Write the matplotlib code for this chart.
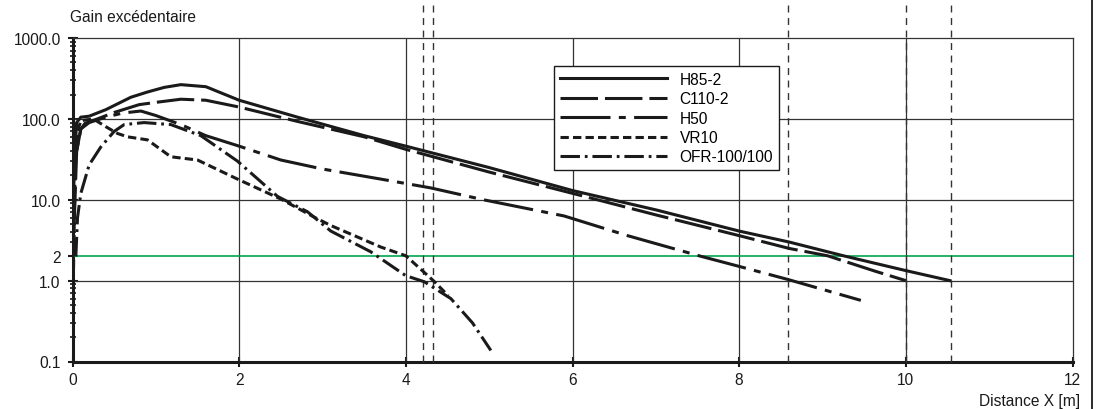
import matplotlib
matplotlib.use("Agg")
import matplotlib.pyplot as plt
from matplotlib.lines import Line2D
from matplotlib.ticker import FixedLocator, LogLocator, NullFormatter

plt.rcParams['font.family'] = ['Liberation Sans', 'DejaVu Sans']
plt.rcParams['lines.scale_dashes'] = False

# values
h85_x = [0.0, 0.02, 0.05, 0.1, 0.2, 0.4, 0.7, 0.9, 1.1, 1.3, 1.6, 2.0, 2.7, 3.5, 4.0, 5.0,
         6.0, 7.0, 8.0, 8.6, 9.25, 10.0, 10.53]
h85_y = [1.0, 30, 90, 105, 108, 130, 185, 215, 245, 265, 250, 170, 105, 62, 46, 25,
         13, 7.5, 4.1, 3.0, 2.03, 1.33, 1.0]

c110_x = [0.02, 0.05, 0.1, 0.15, 0.3, 0.5, 0.8, 1.0, 1.3, 1.6, 2.0, 2.7, 3.5, 4.0, 5.0,
          6.0, 7.0, 8.0, 8.6, 9.06, 9.64, 10.0]
c110_y = [5, 40, 75, 88, 100, 120, 150, 160, 175, 170, 140, 93, 60, 42, 22,
          12, 6.5, 3.6, 2.5, 2.03, 1.3, 1.0]

h50_x = [0.05, 0.1, 0.2, 0.4, 0.6, 0.82, 1.0, 1.3, 1.6, 2.0, 2.5, 3.0, 3.7, 4.3, 4.93,
         5.9, 6.66, 7.54, 8.02, 8.59, 9.46]
h50_y = [40, 75, 90, 105, 118, 125, 110, 85, 62, 46, 31, 24, 18, 14, 10,
         6.3, 3.6, 2.0, 1.48, 1.03, 0.57]

vr10_x = [0.01, 0.03, 0.06, 0.1, 0.25, 0.4, 0.54, 0.66, 0.9, 1.18, 1.5, 1.98, 2.5, 2.9,
          3.1, 3.7, 4.0, 4.33, 4.51]
vr10_y = [1.0, 20, 70, 95, 100, 80, 66, 60, 55, 34, 31, 18, 10.2, 6.1,
          4.8, 2.6, 2.03, 1.0, 0.65]

ofr_x = [0.04, 0.06, 0.1, 0.2, 0.34, 0.5, 0.62, 0.86, 1.18, 1.54, 1.98, 2.46, 2.82, 3.1,
         3.58, 4.0, 4.22, 4.54, 4.8, 5.02]
ofr_y = [2.0, 6, 12, 27, 45, 70, 85, 90, 85, 62, 30, 11, 7.1, 4.1,
         2.27, 1.15, 0.97, 0.6, 0.3, 0.137]

limit_x = [4.2, 4.33, 8.58, 10.0, 10.54]
threshold = 2

y_ticks = [0.1, 1, 2, 10, 100, 1000]
y_labels = ["0.1", "1.0", "2", "10.0", "100.0", "1000.0"]
x_ticks = [0, 2, 4, 6, 8, 10, 12]

W, H = 1099, 410
fig = plt.figure(figsize=(W / 100, H / 100), dpi=100)
ax = fig.add_axes([72.5 / W, 1 - 362.5 / H, 1000 / W, 323.5 / H])
ax.set_yscale('log')
ax.set_xlim(0, 12)
ax.set_ylim(0.1, 1000)

ink = '#1a1a1a'
lw = 2.2
ax.plot(h85_x, h85_y, color=ink, lw=lw, label='H85-2', zorder=5)
ax.plot(c110_x, c110_y, color=ink, lw=lw, dashes=(27, 5), label='C110-2', zorder=5)
ax.plot(h50_x, h50_y, color=ink, lw=lw, dashes=(36, 6, 5, 6), label='H50', zorder=5)
ax.plot(vr10_x, vr10_y, color=ink, lw=lw, dashes=(6, 3), label='VR10', zorder=5)
ax.plot(ofr_x, ofr_y, color=ink, lw=lw, dashes=(14, 3.5, 2, 3.5), label='OFR-100/100', zorder=5)

ax.axhline(threshold, color='#00a651', lw=1.2, zorder=3)

for xv in limit_x:
    ax.axvline(xv, ymin=0, ymax=1.108, clip_on=False, color='#333333', lw=1.0,
               dashes=(5, 4), zorder=4)

# grid
for xv in x_ticks[1:-1]:
    ax.axvline(xv, color='#333333', lw=0.9, zorder=2)
for yv in [1, 10, 100]:
    ax.axhline(yv, color='#333333', lw=0.9, zorder=2)

for s in ['top', 'right']:
    ax.spines[s].set_linewidth(0.9)
    ax.spines[s].set_color('#333333')
for s in ['bottom', 'left']:
    ax.spines[s].set_linewidth(2.2)
    ax.spines[s].set_color(ink)

ax.yaxis.set_major_locator(FixedLocator(y_ticks))
ax.set_yticklabels(y_labels)
ax.yaxis.set_minor_locator(LogLocator(base=10, subs=range(2, 10)))
ax.yaxis.set_minor_formatter(NullFormatter())
ax.set_xticks(x_ticks)
ax.set_xticklabels([str(v) for v in x_ticks])

ax.tick_params(axis='y', which='major', direction='inout', length=7, width=1.5,
               pad=5, labelsize=11.2, colors=ink)
ax.tick_params(axis='y', which='minor', direction='inout', length=5, width=1.2, colors=ink)
ax.tick_params(axis='x', which='major', direction='inout', length=7, width=1.5,
               pad=4, labelsize=11.2, colors=ink)

leg = ax.legend(loc='upper left', bbox_to_anchor=(554 / W, 1 - 67 / H),
                bbox_transform=fig.transFigure, fontsize=11.2, frameon=True,
                fancybox=False, edgecolor=ink, framealpha=1, borderaxespad=0,
                handlelength=6.9, handletextpad=0.8, labelspacing=0.28,
                borderpad=0.38)
leg.get_frame().set_linewidth(1.0)
leg.set_zorder(10)

fig.text(70 / W, 1 - 17 / H, 'Gain excédentaire', fontsize=11.2, ha='left', va='center',
         color=ink)
fig.text(1080 / W, 1 - 402 / H, 'Distance X [m]', fontsize=11.2, ha='right', va='center',
         color=ink)
fig.add_artist(Line2D([1091.5 / W] * 2, [0, 1], transform=fig.transFigure, color=ink, lw=1.3))

fig.savefig('out.png', dpi=100)
